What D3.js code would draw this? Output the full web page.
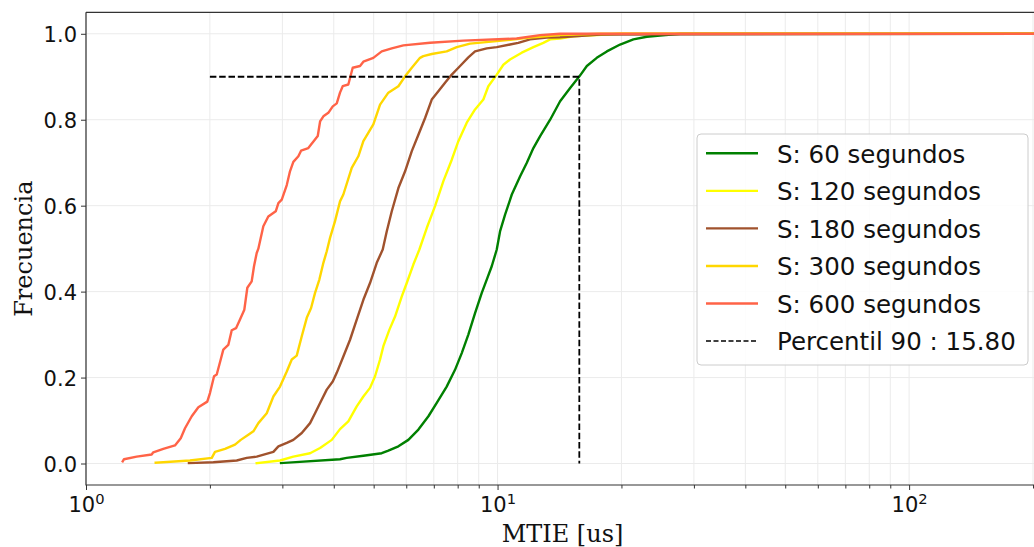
<!DOCTYPE html>
<html>
<head>
<meta charset="utf-8">
<script src="https://cdn.jsdelivr.net/npm/d3@7/dist/d3.min.js"></script>
<style>
  html, body { margin: 0; padding: 0; background: #ffffff; }
  svg { display: block; }
</style>
</head>
<body>
<svg id="chart" width="1034" height="547"></svg>
<script>
// ---- Data ----
const seriesLabels = ["S: 60 segundos", "S: 120 segundos", "S: 180 segundos", "S: 300 segundos", "S: 600 segundos"];
const seriesColors = ["#008000", "#ffff00", "#a0522d", "#ffd700", "#ff6347"];

const s60 = [[2.978,0.001],[4.142,0.010],[4.300,0.013],[4.720,0.018],[5.231,0.024],[5.428,0.030],[5.742,0.040],[6.071,0.055],[6.422,0.079],[6.792,0.110],[7.116,0.141],[7.523,0.179],[7.882,0.218],[8.185,0.257],[8.492,0.300],[8.817,0.350],[9.155,0.397],[9.413,0.428],[9.680,0.459],[9.955,0.498],[10.14,0.540],[10.43,0.579],[10.83,0.626],[11.34,0.668],[11.78,0.700],[12.22,0.734],[12.69,0.762],[13.42,0.800],[14.19,0.843],[15.01,0.874],[15.81,0.901],[16.48,0.925],[17.42,0.944],[18.43,0.959],[19.85,0.975],[21.38,0.987],[23.05,0.993],[24.83,0.996],[27.77,1.0],[250,1.0]];

const s120 = [[2.599,0.001],[2.961,0.007],[3.190,0.016],[3.503,0.024],[3.705,0.036],[3.955,0.055],[4.142,0.080],[4.339,0.098],[4.548,0.133],[4.720,0.156],[4.899,0.176],[5.039,0.203],[5.182,0.242],[5.279,0.273],[5.458,0.311],[5.636,0.342],[5.852,0.389],[6.017,0.420],[6.243,0.463],[6.457,0.498],[6.729,0.548],[7.049,0.599],[7.385,0.657],[7.740,0.707],[8.031,0.750],[8.417,0.793],[8.817,0.824],[9.237,0.847],[9.497,0.878],[9.955,0.905],[10.33,0.928],[10.72,0.940],[11.45,0.956],[12.22,0.969],[12.92,0.979],[13.42,0.987],[14.19,0.989],[15.29,0.994],[19.85,1.0],[250,1.0]];

const s180 = [[1.779,0.001],[2.039,0.003],[2.324,0.007],[2.458,0.013],[2.599,0.016],[2.853,0.027],[2.934,0.040],[3.075,0.048],[3.190,0.055],[3.344,0.071],[3.503,0.094],[3.602,0.117],[3.705,0.141],[3.846,0.172],[3.977,0.191],[4.067,0.211],[4.220,0.249],[4.381,0.288],[4.548,0.335],[4.720,0.381],[4.899,0.420],[5.087,0.467],[5.260,0.498],[5.379,0.540],[5.533,0.587],[5.742,0.641],[5.961,0.680],[6.189,0.727],[6.422,0.765],[6.667,0.804],[6.920,0.847],[7.180,0.866],[7.455,0.886],[7.740,0.905],[8.109,0.925],[8.492,0.945],[8.817,0.959],[9.413,0.966],[9.955,0.969],[10.72,0.975],[11.23,0.979],[11.99,0.987],[13.17,0.991],[14.19,0.992],[17.75,0.998],[250,1.0]];

const s300 = [[1.477,0.002],[1.789,0.007],[2.021,0.013],[2.058,0.027],[2.177,0.034],[2.302,0.044],[2.377,0.055],[2.480,0.067],[2.551,0.075],[2.623,0.094],[2.749,0.117],[2.853,0.156],[2.961,0.179],[3.075,0.214],[3.162,0.242],[3.251,0.251],[3.344,0.296],[3.439,0.339],[3.523,0.362],[3.602,0.397],[3.690,0.428],[3.774,0.467],[3.846,0.494],[3.917,0.525],[4.028,0.564],[4.142,0.610],[4.220,0.626],[4.423,0.688],[4.589,0.715],[4.720,0.750],[4.991,0.789],[5.182,0.835],[5.428,0.863],[5.742,0.878],[5.961,0.901],[6.189,0.921],[6.481,0.944],[6.602,0.948],[6.920,0.953],[7.523,0.959],[7.958,0.969],[8.575,0.977],[9.955,0.983],[11.99,0.991],[14.19,0.997],[17.75,1.0],[250,1.0]];

const s600 = [[1.228,0.005],[1.237,0.010],[1.328,0.016],[1.444,0.021],[1.457,0.026],[1.541,0.034],[1.645,0.042],[1.699,0.059],[1.740,0.082],[1.807,0.110],[1.875,0.131],[1.971,0.144],[2.001,0.164],[2.047,0.203],[2.078,0.207],[2.125,0.242],[2.156,0.265],[2.217,0.276],[2.260,0.310],[2.315,0.315],[2.367,0.335],[2.425,0.358],[2.466,0.409],[2.527,0.424],[2.560,0.459],[2.599,0.490],[2.623,0.500],[2.697,0.552],[2.773,0.575],[2.891,0.587],[2.934,0.606],[2.990,0.614],[3.075,0.648],[3.131,0.680],[3.190,0.702],[3.281,0.715],[3.331,0.728],[3.469,0.734],[3.657,0.762],[3.705,0.796],[3.774,0.808],[3.880,0.816],[3.977,0.831],[4.067,0.838],[4.142,0.863],[4.205,0.878],[4.339,0.882],[4.447,0.921],[4.633,0.925],[4.720,0.935],[4.991,0.944],[5.231,0.959],[5.533,0.966],[5.904,0.973],[6.855,0.979],[8.259,0.984],[11.13,0.989],[12.69,0.997],[14.19,1.0],[250,1.0]];

const seriesData = [s60, s120, s180, s300, s600];

const percentileValue = 15.80;
const percentileLevel = 0.9;
const percentileStart = 2;
const percentileLabel = "Percentil 90 : 15.80";

const xMajorTicks = [1, 10, 100];
const xMajorExp = ["0", "1", "2"];
const xMinorTicks = [2,3,4,5,6,7,8,9,20,30,40,50,60,70,80,90,200];
const yTicks = [0, 0.2, 0.4, 0.6, 0.8, 1.0];
const xLabel = "MTIE [us]";
const yLabel = "Frecuencia";

// ---- Layout ----
const pLeft = 86, pRight = 1033, pTop = 12.3, pBottom = 485;
const svg = d3.select("#chart");
const x = d3.scaleLog().domain([1, 200]).range([pLeft, pRight]);
const y = d3.scaleLinear().domain([-0.05, 1.05]).range([pBottom, pTop]);

const sans = "'DejaVu Sans', sans-serif";
const serif = "'DejaVu Serif', serif";

// grid
const grid = svg.append("g");
grid.selectAll("line.gx").data(xMajorTicks.concat(xMinorTicks)).join("line")
  .attr("x1", d => x(d)).attr("x2", d => x(d)).attr("y1", pTop).attr("y2", pBottom)
  .attr("stroke", "#ebebeb").attr("stroke-width", 1);
grid.selectAll("line.gy").data(yTicks).join("line")
  .attr("x1", pLeft).attr("x2", 1034).attr("y1", d => y(d)).attr("y2", d => y(d))
  .attr("stroke", "#ebebeb").attr("stroke-width", 1);

// clip
svg.append("clipPath").attr("id", "clip").append("rect")
  .attr("x", pLeft).attr("y", pTop).attr("width", 1034 - pLeft).attr("height", pBottom - pTop);

const line = d3.line().x(d => x(d[0])).y(d => y(d[1]));
const plot = svg.append("g").attr("clip-path", "url(#clip)");
seriesData.forEach((s, i) => {
  plot.append("path").attr("d", line(s)).attr("fill", "none")
    .attr("stroke", seriesColors[i]).attr("stroke-width", 2.4)
    .attr("stroke-linejoin", "round").attr("stroke-linecap", "square");
});
// percentile dashed line
plot.append("path")
  .attr("d", line([[percentileStart, percentileLevel], [percentileValue, percentileLevel], [percentileValue, 0]]))
  .attr("fill", "none").attr("stroke", "#000").attr("stroke-width", 1.8)
  .attr("stroke-dasharray", "6.5,2.8");

// axes
const xAxisMajor = d3.axisBottom(x).tickValues(xMajorTicks).tickSize(5).tickFormat(() => "");
const xAxisMinor = d3.axisBottom(x).tickValues(xMinorTicks).tickSize(3.5).tickFormat(() => "");
const gxMin = svg.append("g").attr("transform", `translate(0,${pBottom})`).call(xAxisMinor);
const gx = svg.append("g").attr("transform", `translate(0,${pBottom})`).call(xAxisMajor);
[gx, gxMin].forEach(g => {
  g.select(".domain").remove();
  g.selectAll(".tick line").attr("stroke", "#333").attr("stroke-width", 1);
});
gx.selectAll(".tick text").each(function(d, i) {
  const t = d3.select(this);
  t.attr("y", 26.5).attr("dy", null).attr("font-family", sans).attr("font-size", 21)
    .attr("fill", "#111").attr("text-anchor", "middle");
  t.append("tspan").text("10");
  t.append("tspan").attr("font-size", 14.7).attr("dy", -8).text(xMajorExp[i]);
});

const yAxis = d3.axisLeft(y).tickValues(yTicks).tickSize(5).tickPadding(4).tickFormat(d3.format(".1f"));
const gy = svg.append("g").attr("transform", `translate(${pLeft},0)`).call(yAxis);
gy.select(".domain").remove();
gy.selectAll(".tick line").attr("stroke", "#333").attr("stroke-width", 1);
gy.selectAll(".tick text").attr("font-family", sans).attr("font-size", 21).attr("fill", "#111")
  .attr("dy", "0.36em");

// spines
svg.append("path").attr("d", `M${pLeft},${pTop}H1034M${pLeft},${pTop}V${pBottom}H1034`)
  .attr("fill", "none").attr("stroke", "#333").attr("stroke-width", 1.2);

// axis labels
svg.append("text").attr("x", (pLeft + pRight) / 2 + 3).attr("y", 541.5)
  .attr("text-anchor", "middle").attr("font-family", serif).attr("font-size", 24)
  .attr("fill", "#111").text(xLabel);
svg.append("text").attr("transform", `translate(32,${(pTop + pBottom) / 2}) rotate(-90)`)
  .attr("text-anchor", "middle").attr("font-family", serif).attr("font-size", 24)
  .attr("fill", "#111").text(yLabel);

// legend
const lg = svg.append("g");
lg.append("rect").attr("x", 697).attr("y", 134).attr("width", 331).attr("height", 231)
  .attr("rx", 4).attr("fill", "#fff").attr("fill-opacity", 0.85)
  .attr("stroke", "#cccccc").attr("stroke-width", 1);
const legendItems = seriesLabels.map((l, i) => ({ label: l, color: seriesColors[i], dash: null }))
  .concat([{ label: percentileLabel, color: "#000", dash: "5,2.5" }]);
legendItems.forEach((d, i) => {
  const ly = 153.3 + i * 37.55;
  lg.append("line").attr("x1", 706).attr("x2", 758).attr("y1", ly).attr("y2", ly)
    .attr("stroke", d.color).attr("stroke-width", d.dash ? 1.6 : 2.4)
    .attr("stroke-dasharray", d.dash);
  lg.append("text").attr("x", 777).attr("y", ly + 9.3).attr("font-family", sans)
    .attr("font-size", 24.5).attr("fill", "#111").text(d.label);
});
</script>
</body>
</html>
